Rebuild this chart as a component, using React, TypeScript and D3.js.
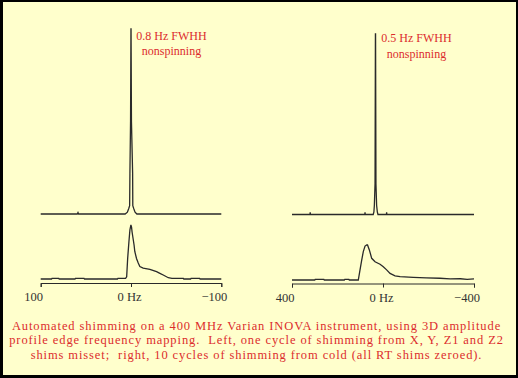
import React, { useEffect, useRef } from "react";
import * as d3 from "d3";

// ---- data (Hz, relative intensity) ----
const leftTicks = [100, 0, -100];
const leftTickLabels = ["100", "0 Hz", "\u2212100"];
const rightTicks = [400, 0, -400];
const rightTickLabels = ["400", "0 Hz", "\u2212400"];

const leftTop: [number, number][] = [
  [100, 0], [59.5, 0], [58.7, 0.008], [58, 0], [6.5, 0], [4, 0.01], [2.5, 0.03], [1.5, 0.045],
  [1.2, 0.22], [0.5, 0.5], [0.05, 1], [-0.05, 1], [-0.5, 0.5], [-1.8, 0.22], [-2.0, 0.045],
  [-3, 0.03], [-4.5, 0.01], [-6.5, 0], [-100, 0],
];

const leftBottom: [number, number][] = [
  [100, 0], [88, 0], [87.5, 0.012], [80, 0.012], [79.5, 0], [62, 0], [61.5, 0.012], [52, 0.012],
  [51.5, 0], [15, 0], [14.5, 0.012], [6, 0.012], [4.8, 0.04], [3.7, 0.38], [2.3, 0.69],
  [1.2, 0.91], [0.1, 1.0], [-0.6, 0.96], [-1.2, 0.87], [-2.3, 0.75], [-3.4, 0.63], [-4.2, 0.51],
  [-6.1, 0.38], [-7.9, 0.3], [-9.8, 0.23], [-13.5, 0.2], [-20.9, 0.18], [-28.3, 0.135],
  [-32, 0.105], [-35.7, 0.074], [-41.3, 0.024], [-45.3, 0.013], [-58, 0.013], [-58.5, 0],
  [-66, 0], [-66.5, 0.012], [-76, 0.012], [-76.5, 0], [-100, 0],
];

const rightTop: [number, number][] = [
  [400, 0], [321, 0], [320, 0.012], [319, 0], [80, 0], [79, 0.012], [78, 0], [43, 0], [40, 0.015],
  [38, 0.05], [35, 0.17], [33.3, 1], [32.7, 1], [31, 0.17], [28, 0.05], [25, 0.015], [22, 0],
  [-15, 0], [-16, 0.012], [-17, 0], [-400, 0],
];

const rightBottom: [number, number][] = [
  [400, 0], [300, 0], [298, 0.02], [260, 0.02], [258, 0], [170, 0], [168, 0.02], [150, 0.02],
  [148, 0], [108.6, 0],
  [101, 0.29], [93.6, 0.57], [86.6, 0.81], [79, 0.97], [71.6, 1.0], [68, 1.0], [60, 0.86],
  [49.7, 0.62], [35, 0.52], [13, 0.45], [-1.3, 0.38], [-16, 0.29], [-31, 0.19], [-53, 0.12],
  [-75, 0.094], [-133, 0.077], [-190, 0.06], [-250, 0.05], [-295, 0.03], [-340, 0.035],
  [-370, 0.02], [-400, 0.03],
];

const leftNote = ["0.8 Hz FWHH", "nonspinning"];
const rightNote = ["0.5 Hz FWHH", "nonspinning"];
const caption = [
  "Automated shimming on a 400 MHz Varian INOVA instrument, using 3D amplitude",
  "profile edge frequency mapping.  Left, one cycle of shimming from X, Y, Z1 and Z2",
  "shims misset;  right, 10 cycles of shimming from cold (all RT shims zeroed).",
];

const W = 518;
const H = 378;
const RED = "#dc2c2c";
const INK = "#2a2a2a";
const SERIF = "'Liberation Serif', 'Times New Roman', serif";

export default function App() {
  const ref = useRef<SVGSVGElement>(null);

  useEffect(() => {
    const svg = d3.select(ref.current);
    svg.selectAll("*").remove();

    svg.append("rect").attr("width", W).attr("height", H).attr("fill", "#000");
    svg.append("rect").attr("x", 3).attr("y", 2).attr("width", 513).attr("height", 373).attr("fill", "#ffffcc");

    const panels = [
      {
        x: d3.scaleLinear().domain([100, -100]).range([40.7, 221.3]),
        ticks: leftTicks, labels: leftTickLabels, axisY: 283,
        traces: [
          { data: leftTop, base: 214, top: 29 },
          { data: leftBottom, base: 279, top: 225 },
        ],
        note: leftNote, noteX: 171.5, noteY: 40,
      },
      {
        x: d3.scaleLinear().domain([400, -400]).range([292, 474]),
        ticks: rightTicks, labels: rightTickLabels, axisY: 283.5,
        traces: [
          { data: rightTop, base: 214.5, top: 34 },
          { data: rightBottom, base: 280, top: 245 },
        ],
        note: rightNote, noteX: 416.5, noteY: 42.3,
      },
    ];

    panels.forEach((p) => {
      p.traces.forEach((t) => {
        const y = d3.scaleLinear().domain([0, 1]).range([t.base, t.top]);
        const line = d3.line<[number, number]>().x((d) => p.x(d[0])).y((d) => y(d[1]));
        svg.append("path").attr("d", line(t.data) as string).attr("fill", "none")
          .attr("stroke", INK).attr("stroke-width", 1.3).attr("stroke-linejoin", "miter");
      });

      const axis = d3.axisBottom(p.x).tickValues(p.ticks).tickSize(4).tickSizeOuter(4).tickFormat(() => "");
      const g = svg.append("g").attr("transform", `translate(0,${p.axisY})`).call(axis);
      g.selectAll("path,line").attr("stroke", INK).attr("stroke-width", 1);

      p.ticks.forEach((v, i) => {
        const dx = v === 0 ? -1.5 : -7;
        svg.append("text").attr("x", p.x(v) + dx).attr("y", p.axisY + 18)
          .attr("text-anchor", "middle").attr("font-family", SERIF)
          .attr("font-size", 12.5).attr("fill", "#333").text(p.labels[i]);
      });

      p.note.forEach((s, i) => {
        svg.append("text").attr("x", p.noteX).attr("y", p.noteY + i * 15.2)
          .attr("text-anchor", "middle").attr("font-family", SERIF)
          .attr("font-size", 12).attr("fill", RED).text(s);
      });
    });

    caption.forEach((s, i) => {
      svg.append("text").attr("x", 256.5).attr("y", 330 + i * 14.4)
        .attr("text-anchor", "middle").attr("font-family", SERIF)
        .attr("font-size", 12.5).attr("letter-spacing", 0.9).attr("fill", RED)
        .style("white-space", "pre").text(s);
    });
  }, []);

  return (
    <svg ref={ref} width={W} height={H} style={{ position: "absolute", left: 0, top: 0, display: "block" }} />
  );
}
